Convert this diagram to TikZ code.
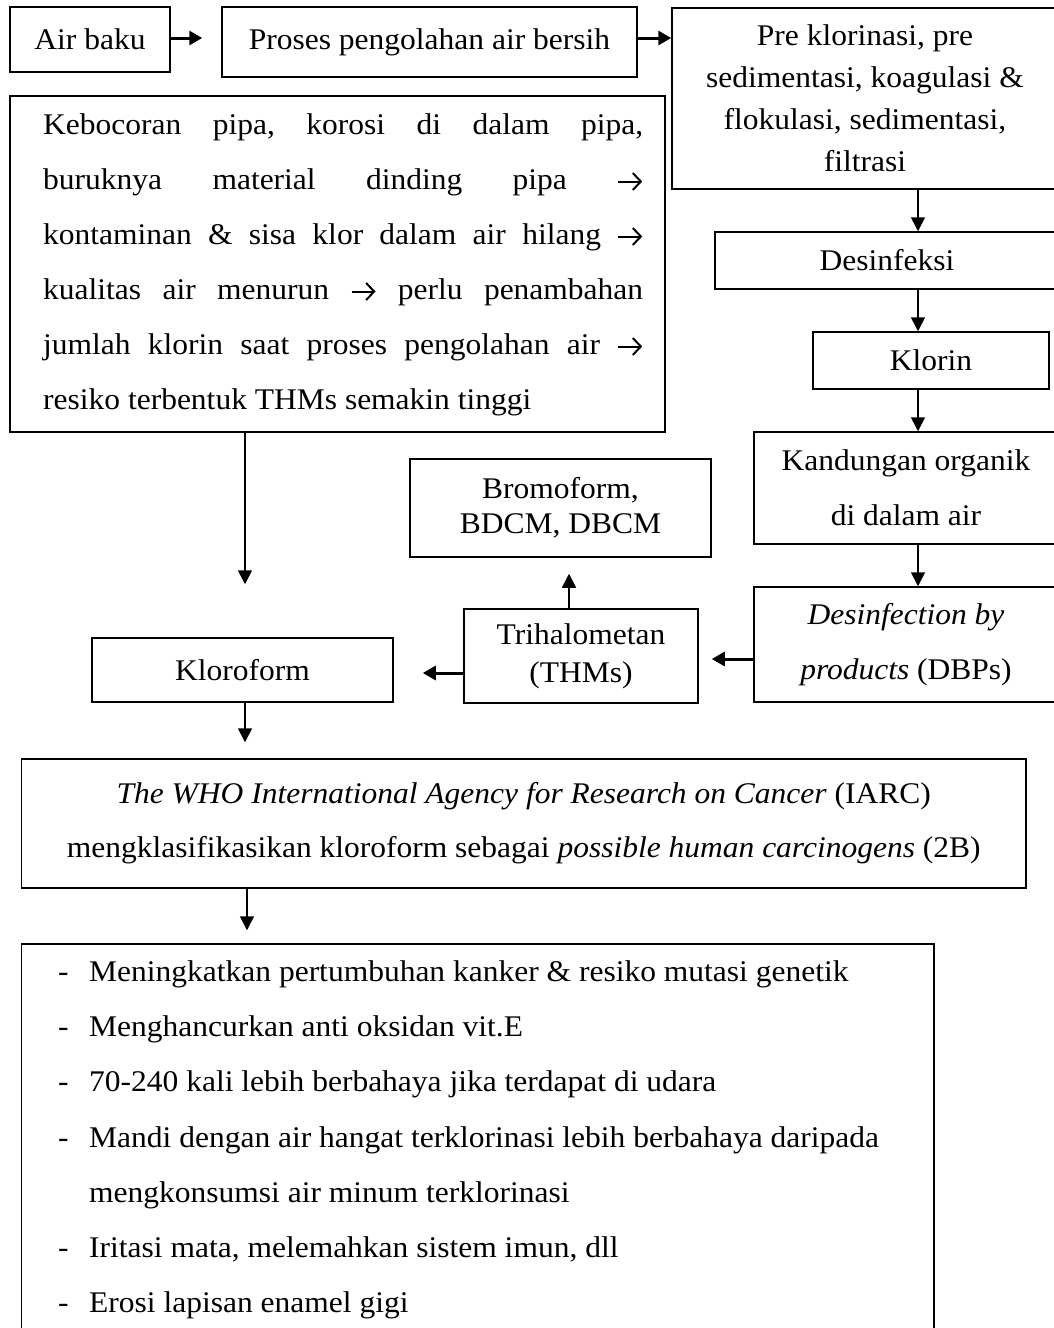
\documentclass[tikz,border=0pt]{standalone}
\usepackage{fontspec}
\setmainfont{Liberation Serif}[FakeStretch=1.05]
\usetikzlibrary{arrows.meta}
\newcommand{\myarr}{\tikz[baseline=0pt,x=1pt,y=1pt]\draw[line width=2pt,-{Straight Barb[length=8pt,width=17pt,line width=2pt]}] (0,7.5) -- (24,7.5);}
\frenchspacing
\begin{document}
\begin{tikzpicture}[x=1pt,y=-1pt,
  box/.style={draw, line width=1.5pt, inner sep=0pt, align=center, font=\fontsize{30}{36}\selectfont},
  txt/.style={inner sep=0pt, font=\fontsize{30}{36}\selectfont},
  varr/.style={line width=1.6pt, -{Triangle[length=14pt,width=14pt]}},
  harr/.style={line width=3pt, -{Triangle[length=13pt,width=14pt]}}]
\useasboundingbox (0,0) rectangle (1054,1328);
\fill[white] (0,0) rectangle (1054,1328);
\clip (0,0) rectangle (1054,1328);

% boxes
\node[box, minimum width=160, minimum height=65] (air) at (90,39.5) {Air baku};
\node[box, minimum width=415, minimum height=70] (proses) at (429.5,42) {Proses pengolahan air bersih};
\node[box, minimum width=386, minimum height=181, font=\fontsize{30}{42}\selectfont] (pre) at (865,98.5)
  {Pre klorinasi, pre\\ sedimentasi, koagulasi \&\\ flokulasi, sedimentasi,\\ filtrasi};
\node[box, minimum width=344, minimum height=57] (des) at (887,260.5) {Desinfeksi};
\node[box, minimum width=236, minimum height=57] (klorin) at (931,360.5) {Klorin};
\node[box, minimum width=304, minimum height=112, font=\fontsize{30}{55}\selectfont] (kand) at (906,488)
  {Kandungan organik\\ di dalam air};
\node[box, minimum width=304, minimum height=115, font=\fontsize{30}{55}\selectfont] (dbps) at (906,644.5)
  {\textit{Desinfection by}\\ \textit{products} (DBPs)};
\node[box, minimum width=234, minimum height=94, font=\fontsize{30}{38}\selectfont] (thms) at (581,656)
  {Trihalometan\\ (THMs)};
\node[box, minimum width=301, minimum height=64] (klor) at (242.5,670) {Kloroform};
\node[box, minimum width=301, minimum height=98, font=\fontsize{30}{35}\selectfont] (brom) at (560.5,508)
  {Bromoform,\\ BDCM, DBCM};
\node[box, minimum width=1004.5, minimum height=129, font=\fontsize{30}{54}\selectfont] (iarc) at (523.75,823.5)
  {\textit{The WHO International Agency for Research on Cancer} (IARC)\\
   mengklasifikasikan kloroform sebagai \textit{possible human carcinogens} (2B)};
\node[box, minimum width=655, minimum height=336] (keb) at (337.5,264) {};
\node[box, minimum width=912.5, minimum height=420] (eff) at (477.75,1154) {};

% text of the left box
\node[txt, anchor=base west] (k1) at (43,134) {\makebox[600pt][s]{Kebocoran pipa, korosi di dalam pipa,}};
\node[txt, anchor=base west] (k2) at (43,189) {\makebox[600pt][s]{buruknya material dinding pipa \myarr}};
\node[txt, anchor=base west] (k3) at (43,244) {\makebox[600pt][s]{kontaminan \& sisa klor dalam air hilang \myarr}};
\node[txt, anchor=base west] (k4) at (43,299) {\makebox[600pt][s]{kualitas air menurun \myarr\ perlu penambahan}};
\node[txt, anchor=base west] (k5) at (43,354) {\makebox[600pt][s]{jumlah klorin saat proses pengolahan air \myarr}};
\node[txt, anchor=base west] (k6) at (43,409) {resiko terbentuk THMs semakin tinggi};

% bullet list
\node[txt, anchor=base west] (d1) at (58,981) {-};
\node[txt, anchor=base west] (b1) at (89,981) {Meningkatkan pertumbuhan kanker \& resiko mutasi genetik};
\node[txt, anchor=base west] (d2) at (58,1036) {-};
\node[txt, anchor=base west] (b2) at (89,1036) {Menghancurkan anti oksidan vit.E};
\node[txt, anchor=base west] (d3) at (58,1091) {-};
\node[txt, anchor=base west] (b3) at (89,1091) {70-240 kali lebih berbahaya jika terdapat di udara};
\node[txt, anchor=base west] (d4) at (58,1147) {-};
\node[txt, anchor=base west] (b4) at (89,1147) {Mandi dengan air hangat terklorinasi lebih berbahaya daripada};
\node[txt, anchor=base west] (b4b) at (89,1202) {mengkonsumsi air minum terklorinasi};
\node[txt, anchor=base west] (d5) at (58,1257) {-};
\node[txt, anchor=base west] (b5) at (89,1257) {Iritasi mata, melemahkan sistem imun, dll};
\node[txt, anchor=base west] (d6) at (58,1312) {-};
\node[txt, anchor=base west] (b6) at (89,1312) {Erosi lapisan enamel gigi};

% connectors
\coordinate (h0) at (0,38);
\draw[harr, shorten >=19pt] (air.east |- h0) -- (proses.west |- h0);
\draw[harr] (proses.east |- h0) -- (pre.west |- h0);
\coordinate (vx) at (918,0);
\draw[varr] (pre.south -| vx) -- (des.north -| vx);
\draw[varr] (des.south -| vx) -- (klorin.north -| vx);
\draw[varr] (klorin.south -| vx) -- (kand.north -| vx);
\draw[varr] (kand.south -| vx) -- (dbps.north -| vx);
\coordinate (h1) at (0,659);
\draw[harr, shorten >=13pt] (dbps.west |- h1) -- (thms.east |- h1);
\coordinate (h2) at (0,673);
\draw[harr, shorten >=29pt] (thms.west |- h2) -- (klor.east |- h2);
\coordinate (vb) at (569,0);
\draw[varr, shorten >=16pt] (thms.north -| vb) -- (brom.south -| vb);
\coordinate (vk) at (245,0);
\draw[varr, shorten >=53pt] (keb.south -| vk) -- (klor.north -| vk);
\draw[varr, shorten >=16pt] (klor.south -| vk) -- (iarc.north -| vk);
\coordinate (vi) at (247,0);
\draw[varr, shorten >=13pt] (iarc.south -| vi) -- (eff.north -| vi);
\end{tikzpicture}
\end{document}
